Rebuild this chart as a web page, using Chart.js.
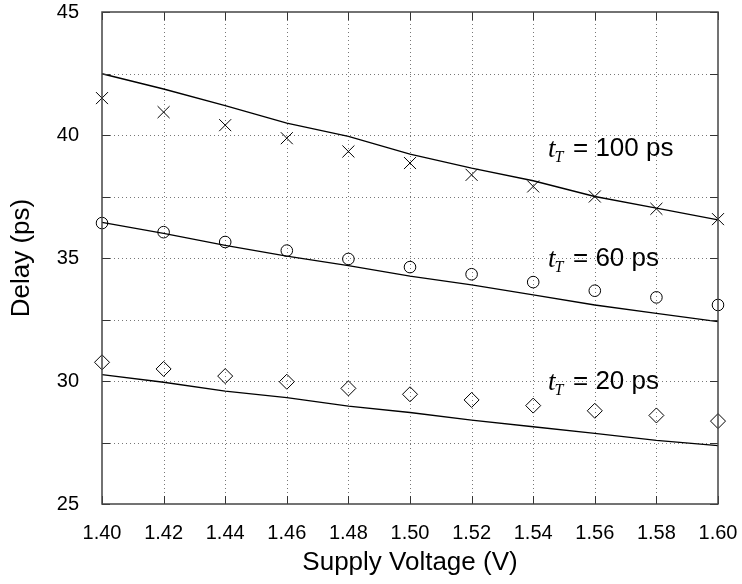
<!DOCTYPE html>
<html>
<head>
<meta charset="utf-8">
<script src="https://cdn.jsdelivr.net/npm/chart.js@4.4.1/dist/chart.umd.min.js"></script>
<style>
  html, body { margin: 0; padding: 0; background: #fff; }
  #wrap { width: 742px; height: 584px; }
</style>
</head>
<body>
<div id="wrap"><canvas id="delayChart" width="742" height="584"></canvas></div>
<script>
// supply voltage (V)
var voltages = ["1.40", "1.42", "1.44", "1.46", "1.48", "1.50", "1.52", "1.54", "1.56", "1.58", "1.60"];

// measured delay (ps), markers
var meas100 = [41.50, 40.93, 40.40, 39.87, 39.33, 38.86, 38.38, 37.91, 37.50, 37.00, 36.58];
var meas60  = [36.42, 36.05, 35.65, 35.30, 34.96, 34.63, 34.34, 34.02, 33.67, 33.40, 33.09];
var meas20  = [30.76, 30.49, 30.20, 29.97, 29.70, 29.46, 29.23, 29.00, 28.79, 28.60, 28.37];

// model delay (ps), solid lines
var model100 = [42.49, 41.87, 41.19, 40.48, 39.94, 39.22, 38.65, 38.14, 37.50, 37.03, 36.55];
var model60  = [36.45, 36.00, 35.51, 35.08, 34.69, 34.26, 33.91, 33.50, 33.09, 32.75, 32.41];
var model20  = [30.26, 29.95, 29.59, 29.32, 28.98, 28.72, 28.41, 28.14, 27.87, 27.59, 27.37];

var yTicks = [25, 30, 35, 40, 45];
var curveLabels = ["= 100 ps", "= 60 ps", "= 20 ps"];

var SANS = "'Liberation Sans', Arial, sans-serif";
var SERIF = "'Liberation Serif', 'Times New Roman', serif";

function lineSet(data) {
  return { data: data, borderColor: '#000', borderWidth: 1.3, pointRadius: 0, fill: false, tension: 0 };
}
function markSet(data, style, r) {
  return { data: data, showLine: false, pointStyle: style, pointRadius: r, pointHoverRadius: r,
           pointBorderColor: '#000', pointBackgroundColor: 'rgba(0,0,0,0)', pointBorderWidth: 1 };
}

// dotted grid under the data, frame + inward ticks + t_T labels on top
var framePlugin = {
  id: 'frame',
  beforeDatasetsDraw: function(chart) {
    var ctx = chart.ctx, a = chart.chartArea;
    var xs = chart.scales.x, ys = chart.scales.y;
    ctx.save();
    ctx.strokeStyle = '#777';
    ctx.lineWidth = 1;
    ctx.setLineDash([1, 3]);
    ctx.beginPath();
    for (var i = 1; i < voltages.length - 1; i++) {
      var px = Math.round(xs.getPixelForValue(i)) + 0.5;
      ctx.moveTo(px, a.top); ctx.lineTo(px, a.bottom);
    }
    for (var v = 27.5; v < 45; v += 2.5) {
      var py = Math.round(ys.getPixelForValue(v)) + 0.5;
      ctx.moveTo(a.left, py); ctx.lineTo(a.right, py);
    }
    ctx.stroke();
    ctx.restore();
  },
  afterDraw: function(chart) {
    var ctx = chart.ctx, a = chart.chartArea;
    var xs = chart.scales.x, ys = chart.scales.y;
    ctx.save();
    ctx.strokeStyle = '#333';
    ctx.lineWidth = 1;
    ctx.beginPath();
    for (var i = 0; i < voltages.length; i++) {
      var px = Math.round(xs.getPixelForValue(i)) + 0.5;
      ctx.moveTo(px, a.top); ctx.lineTo(px, a.top + 8);
      ctx.moveTo(px, a.bottom); ctx.lineTo(px, a.bottom - 8);
    }
    for (var v = 25; v <= 45; v += 2.5) {
      var py = Math.round(ys.getPixelForValue(v)) + 0.5;
      ctx.moveTo(a.left, py); ctx.lineTo(a.left + 8, py);
      ctx.moveTo(a.right, py); ctx.lineTo(a.right - 8, py);
    }
    ctx.stroke();
    ctx.lineWidth = 1.5;
    ctx.strokeStyle = '#444';
    ctx.strokeRect(a.left, a.top, a.right - a.left, a.bottom - a.top);

    // curve labels, anchored in data units
    var anchors = [[7.24, 39.45], [7.24, 34.98], [7.24, 29.96]];
    ctx.fillStyle = '#000';
    ctx.textBaseline = 'middle';
    for (var k = 0; k < anchors.length; k++) {
      var x = xs.getPixelForValue(anchors[k][0]);
      var y = ys.getPixelForValue(anchors[k][1]);
      ctx.font = 'italic 27px ' + SERIF;
      ctx.fillText('t', x, y + 1);
      var tw = ctx.measureText('t').width;
      ctx.font = 'italic 16px ' + SERIF;
      ctx.fillText('T', x + tw - 1, y + 9);
      ctx.font = '26px ' + SANS;
      ctx.fillText(curveLabels[k], x + 25, y);
    }
    ctx.restore();
  }
};

var ctx = document.getElementById("delayChart");
var delayChart = new Chart(ctx, {
  type: 'line',
  data: {
    labels: voltages,
    datasets: [
      lineSet(model100), lineSet(model60), lineSet(model20),
      markSet(meas100, 'crossRot', 8.5),
      markSet(meas60, 'circle', 5.8),
      markSet(meas20, 'rectRot', 7.5)
    ]
  },
  options: {
    responsive: false,
    animation: false,
    layout: { padding: { left: 0, right: 24, top: 12, bottom: 0 } },
    plugins: { legend: { display: false }, tooltip: { enabled: false } },
    scales: {
      x: {
        type: 'category',
        offset: false,
        grid: { display: false },
        border: { display: false },
        ticks: { color: '#000', font: { family: SANS, size: 20 }, padding: 9, maxRotation: 0, autoSkip: false },
        title: { display: true, text: 'Supply Voltage (V)', color: '#000',
                 font: { family: SANS, size: 26 }, padding: { top: 2, bottom: 6 } },
        afterFit: function(s) { s.height = 80; s.paddingLeft = 0; s.paddingRight = 0; }
      },
      y: {
        min: 25, max: 45,
        grid: { display: false },
        border: { display: false },
        ticks: {
          stepSize: 2.5, color: '#000', font: { family: SANS, size: 20 }, padding: 15,
          callback: function(v) { return yTicks.indexOf(v) >= 0 ? String(v) : ''; }
        },
        title: { display: true, text: 'Delay (ps)', color: '#000',
                 font: { family: SANS, size: 26 }, padding: { top: 6, bottom: 6 } },
        afterFit: function(s) { s.width = 102; s.paddingTop = 0; s.paddingBottom = 0; }
      }
    }
  },
  plugins: [framePlugin]
});
</script>
</body>
</html>
